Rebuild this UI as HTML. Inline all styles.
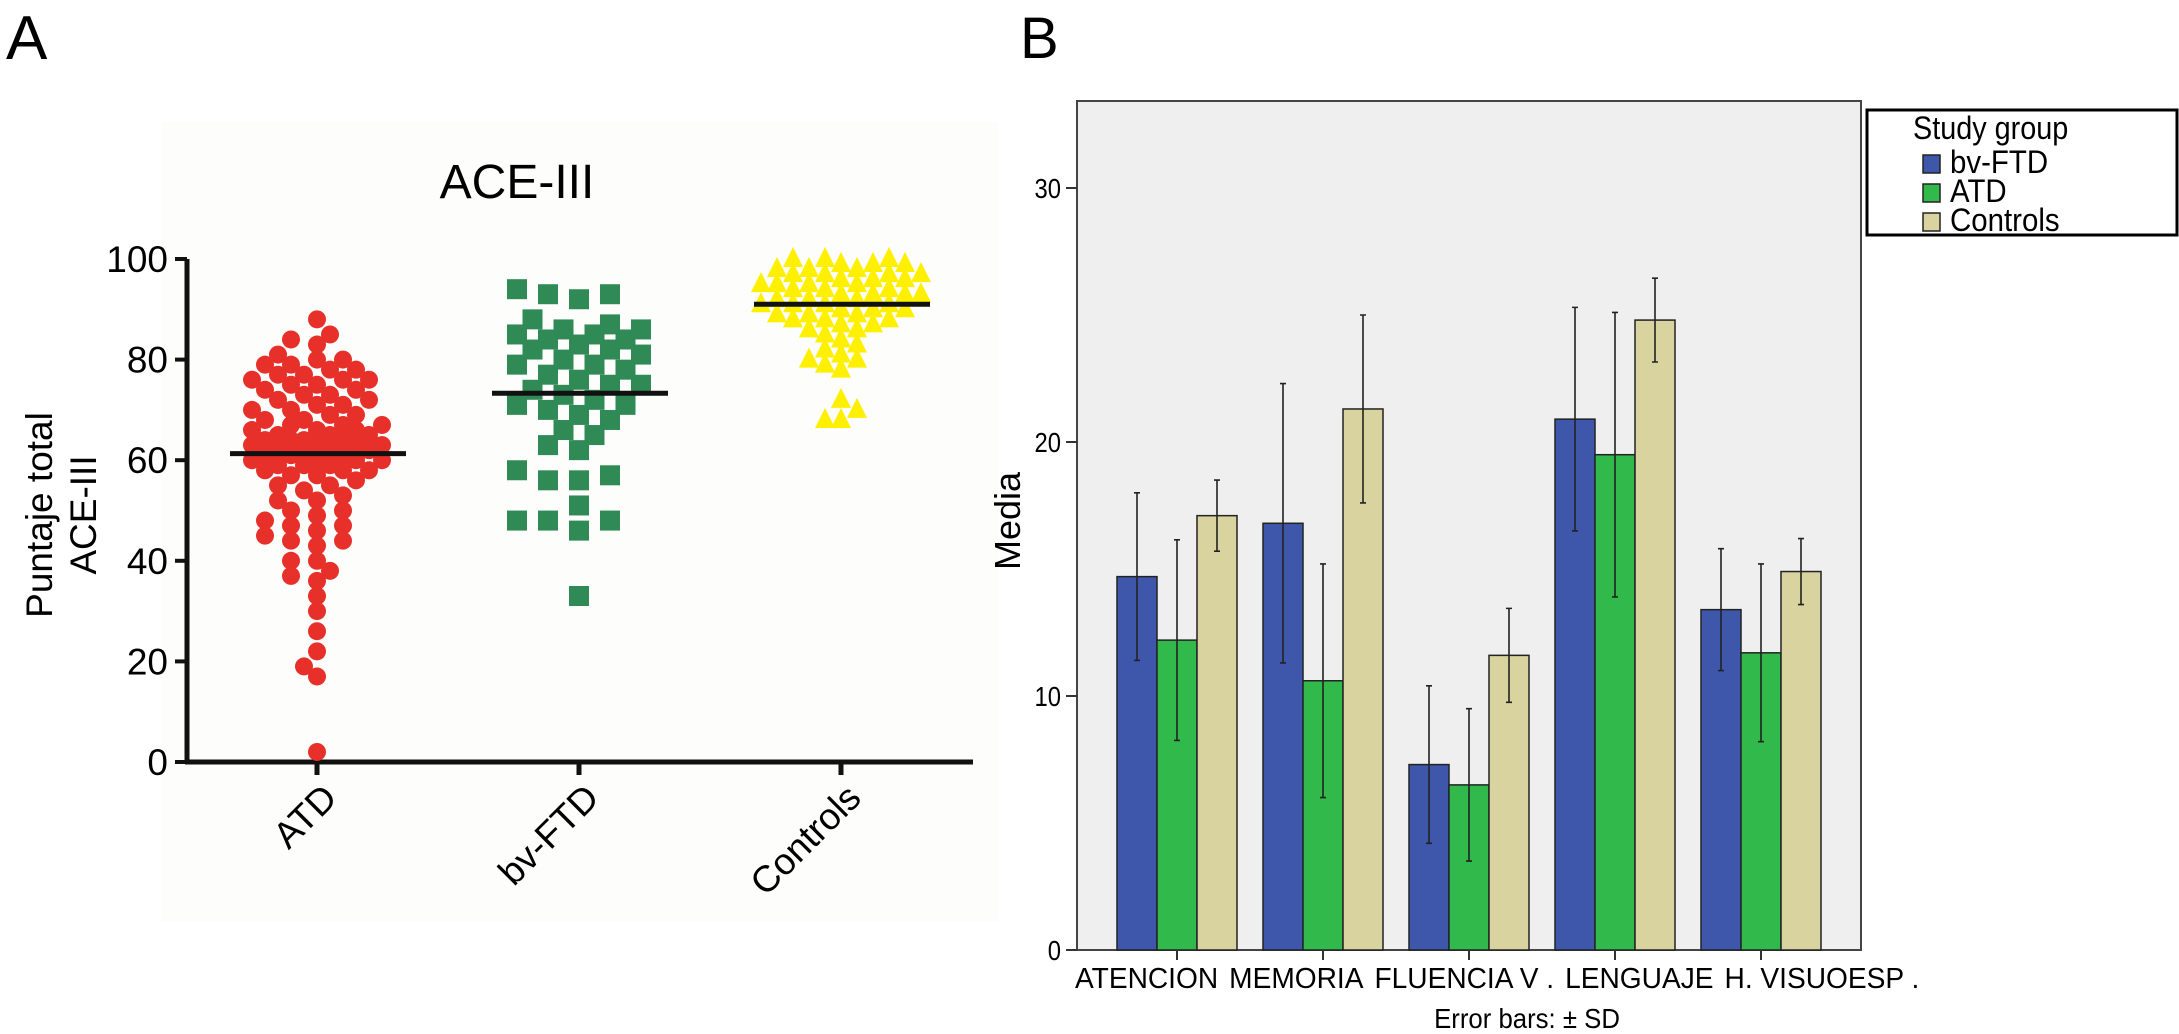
<!DOCTYPE html>
<html><head><meta charset="utf-8"><style>
html,body{margin:0;padding:0;background:#fff;}
svg{display:block;font-family:"Liberation Sans",sans-serif;}
</style></head><body>
<svg id="fig" width="2179" height="1034" viewBox="0 0 2179 1034" xmlns="http://www.w3.org/2000/svg">
<rect x="0" y="0" width="2179" height="1034" fill="#fff"/>
<g id="panelA">
<rect x="162" y="122" width="836" height="800" fill="#fdfdfc"/>
<text x="6" y="59" font-size="62">A</text>
<text x="517" y="198" font-size="48" text-anchor="middle">ACE-III</text>
<text transform="translate(52,515) rotate(-90)" font-size="37" text-anchor="middle">Puntaje total</text>
<text transform="translate(96,515) rotate(-90)" font-size="37" text-anchor="middle">ACE-III</text>
<g id="axA"></g><g id="ptsA"></g><g id="meanA"></g>
</g>
<g id="panelB">
<text x="1020" y="58" font-size="58">B</text>
<rect x="1077" y="101" width="784" height="849" fill="#efefef" stroke="#444" stroke-width="2"/>
<g id="barsB"></g><g id="axB"></g>
<text transform="translate(1020,521) rotate(-90)" font-size="36" text-anchor="middle">Media</text>
<text transform="translate(1527,1028) scale(0.92,1)" font-size="28" text-anchor="middle">Error bars: ± SD</text>
<g>
<rect x="1867" y="110" width="310" height="125" fill="#fff" stroke="#000" stroke-width="3"/>
<text transform="translate(1913,139) scale(0.9,1)" font-size="32">Study group</text>
<g id="legB"></g>
</g>
</g>
</svg>
<script>
// ---------- Panel A data ----------
const groupsA = ["ATD", "bv-FTD", "Controls"];
const atdValues = [2,17,19,22,26,30,33,36,37,38,40,40,43,44,44,45,46,47,47,48,49,50,50,52,52,53,54,55,55,56,57,57,58,58,58,59,59,59,60,60,60,60,61,61,61,62,62,62,62,63,63,63,63,64,64,64,64,65,65,65,66,66,66,67,67,67,68,68,69,69,70,70,71,71,72,72,73,73,74,74,75,75,76,76,76,77,77,78,78,79,79,80,80,81,83,84,85,88];
const ftdValues = [33,46,48,48,48,51,56,56,57,58,62,63,65,66,68,69,70,71,71,72,73,74,75,75,76,77,78,79,79,80,81,82,82,83,84,84,85,85,86,86,87,88,92,93,93,94];
const ctrlValues = [68,68,70,72,78,79,80,80,81,82,83,84,85,86,86,87,87,88,88,88,89,89,89,90,90,90,91,91,91,92,92,92,93,93,93,94,94,94,95,95,95,96,96,96,97,97,97,98,98,98,99,99,99,100,100,100,97,95,93,91];
const meansA = [61.3, 73.3, 91];
const ticksA = [0,20,40,60,80,100];

const NS = "http://www.w3.org/2000/svg";
function mk(tag, attrs, parent){const e=document.createElementNS(NS,tag);for(const k in attrs)e.setAttribute(k,attrs[k]);parent.appendChild(e);return e;}

const yA = v => 762 - v*5.03;
const xA = i => 317 + i*262;
const axA = document.getElementById('axA');
let l = mk('line',{x1:187,y1:259,x2:187,y2:764,stroke:'#111','stroke-width':5},axA);


l = mk('line',{x1:185,y1:762,x2:973,y2:762,stroke:'#111','stroke-width':5},axA);


ticksA.forEach(t=>{
  const tk=mk('line',{x1:175,y1:yA(t),x2:187,y2:yA(t),stroke:'#111','stroke-width':4},axA);
  
  
  const tx=mk('text',{x:168,y:yA(t)+13,'font-size':37,'text-anchor':'end'},axA);
  tx.textContent=t;
  
  
});
groupsA.forEach((g,i)=>{
  const tk=mk('line',{x1:xA(i),y1:762,x2:xA(i),y2:775,stroke:'#111','stroke-width':5},axA);
  
  
  const tx=mk('text',{transform:`translate(${xA(i)+22},${800}) rotate(-45)`,'font-size':37,'text-anchor':'end'},axA);
  tx.textContent=g;
  
  
});

function swarm(vals, cx, step, dist, maxOff){
  const placed=[];
  const nMax=Math.floor(maxOff/step);
  vals.slice().sort((a,b)=>a-b).forEach(v=>{
    const y=yA(v);
    let best=null,bestD=-1;
    for(let k=0;k<=2*nMax;k++){
      const off=(k%2===0?1:-1)*Math.ceil(k/2)*step;
      const x=cx+off;
      const d=placed.length?Math.min(...placed.map(p=>Math.hypot(p.x-x,p.y-y))):1e9;
      if(d>=dist){best=x;bestD=d;break;}
      if(d>bestD){bestD=d;best=x;}
    }
    placed.push({x:best,y});
  });
  return placed;
}
const ptsA=document.getElementById('ptsA');
swarm(atdValues,xA(0),13,15,75).forEach(p=>{
  const c=mk('circle',{cx:p.x,cy:p.y,r:9,fill:'#e8302a'},ptsA);
  
  
});
swarm(ftdValues,xA(1),15.5,20,62).forEach(p=>{
  const r=mk('rect',{x:p.x-10,y:p.y-10,width:20,height:20,fill:'#2f8a56'},ptsA);
  
  
});
swarm(ctrlValues,xA(2),16,13,80).forEach(p=>{
  const t=mk('polygon',{points:`${p.x},${p.y-12} ${p.x-10},${p.y+8} ${p.x+10},${p.y+8}`,fill:'#fff000'},ptsA);
  
  
});
const meanA=document.getElementById('meanA');
meansA.forEach((m,i)=>{
  const ln=mk('line',{x1:xA(i)-87,y1:yA(m),x2:xA(i)+89,y2:yA(m),stroke:'#111','stroke-width':5},meanA);
  
  
});

// ---------- Panel B data ----------
const categoriesB = ["ATENCION","MEMORIA","FLUENCIA V .","LENGUAJE","H. VISUOESP ."];
const seriesB = ["bv-FTD","ATD","Controls"];
const ftdMeans = [14.7,16.8,7.3,20.9,13.4];
const ftdSD = [3.3,5.5,3.1,4.4,2.4];
const atdMeans = [12.2,10.6,6.5,19.5,11.7];
const atdSD = [3.95,4.6,3.0,5.6,3.5];
const ctrlMeans = [17.1,21.3,11.6,24.8,14.9];
const ctrlSD = [1.4,3.7,1.85,1.65,1.3];
const ticksB = [0,10,20,30];
const colorsB = ['#3f57ab','#31b94b','#d8d39f'];

const yB = v => 950 - v*25.4;
const xB = i => 1177 + i*146;
const barsB=document.getElementById('barsB');
const axB=document.getElementById('axB');
const meansB=[ftdMeans,atdMeans,ctrlMeans], sdsB=[ftdSD,atdSD,ctrlSD];
let labelX = 1075;
categoriesB.forEach((c,i)=>{
  seriesB.forEach((s,j)=>{
    const x=xB(i)+(j-1)*40-20, m=meansB[j][i], sd=sdsB[j][i];
    const r=mk('rect',{x:x,y:yB(m),width:40,height:yB(0)-yB(m),fill:colorsB[j],stroke:'#222','stroke-width':1.5},barsB);
    
    
    const cx=x+20;
    const e=mk('path',{d:`M${cx},${yB(m+sd)}V${yB(m-sd)}M${cx-3},${yB(m+sd)}H${cx+3}M${cx-3},${yB(m-sd)}H${cx+3}`,stroke:'#222','stroke-width':1.6,fill:'none'},barsB);
    
    
  });
  const tk=mk('line',{x1:xB(i),y1:950,x2:xB(i),y2:960,stroke:'#333','stroke-width':2},axB);
  
  
  const tx=mk('text',{transform:`translate(${labelX},988) scale(0.97,1)`,'font-size':29},axB);
  tx.textContent=c;
  
  
  labelX += tx.getComputedTextLength()*0.97 + 11;
});
ticksB.forEach(t=>{
  const tk=mk('line',{x1:1066,y1:yB(t),x2:1077,y2:yB(t),stroke:'#333','stroke-width':2},axB);
  
  
  const tx=mk('text',{transform:`translate(1061,${yB(t)+10}) scale(0.85,1)`,'font-size':28,'text-anchor':'end'},axB);
  tx.textContent=t;
  
  
});
const legB=document.getElementById('legB');
seriesB.forEach((s,j)=>{
  const y=155+j*29;
  const r=mk('rect',{x:1923,y:y,width:17,height:18,fill:colorsB[j],stroke:'#222','stroke-width':1.5},legB);
  
  
  const tx=mk('text',{transform:`translate(1950,${y+18}) scale(0.92,1)`,'font-size':32},legB);
  tx.textContent=s;
  
  
});
</script>
</body></html>
